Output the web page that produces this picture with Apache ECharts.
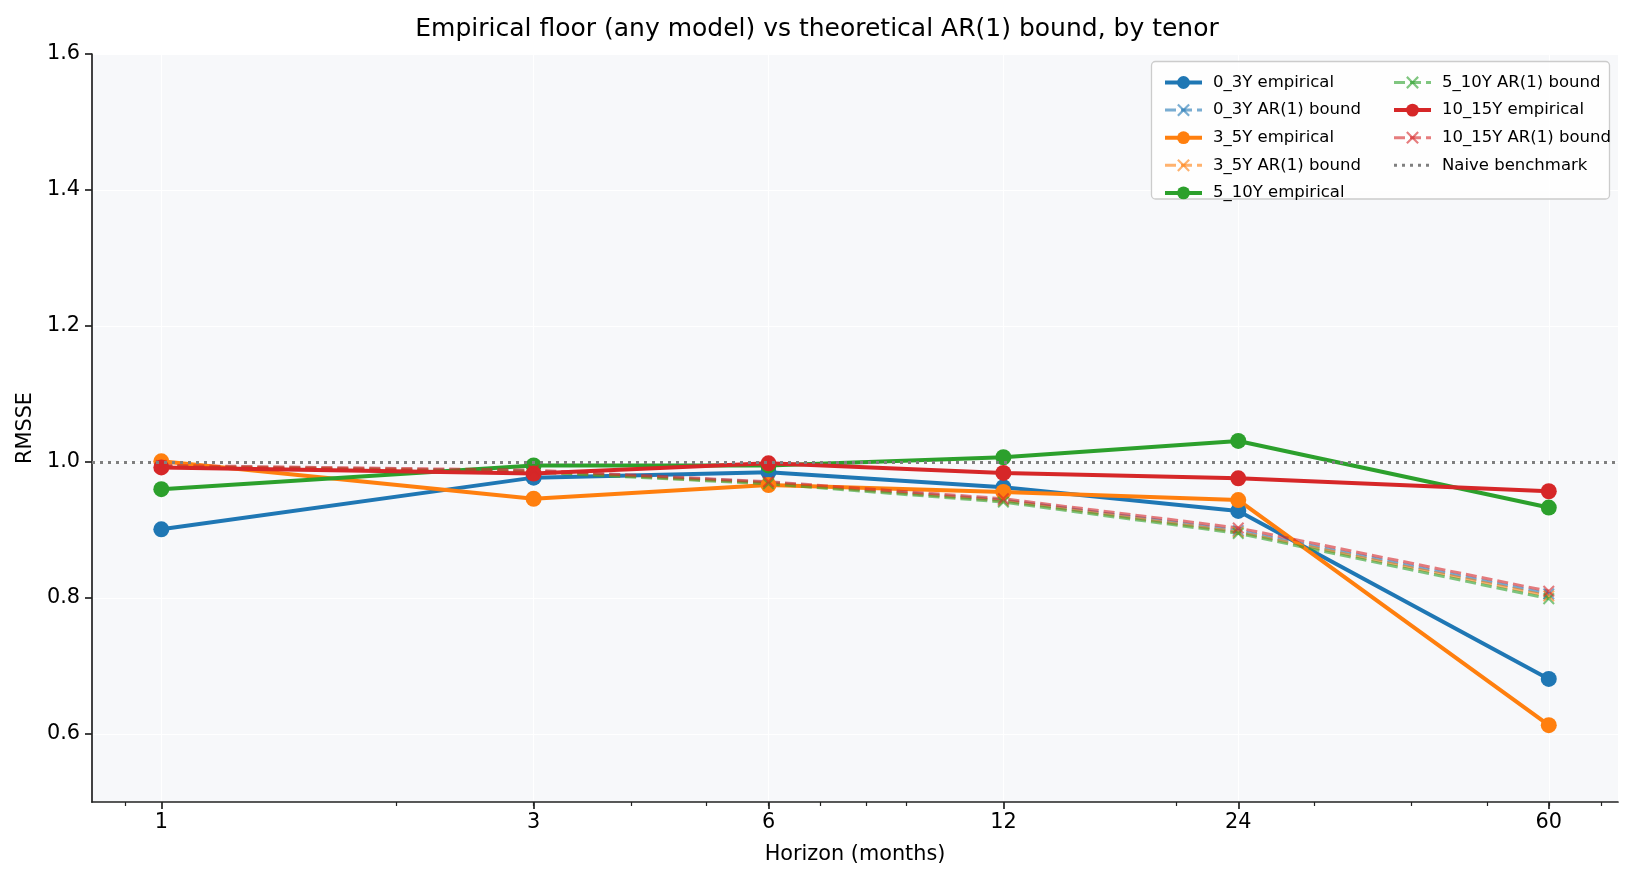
<!DOCTYPE html>
<html>
<head>
<meta charset="utf-8">
<title>Empirical floor vs theoretical AR(1) bound</title>
<script src="https://cdn.jsdelivr.net/npm/echarts@6.0.0/dist/echarts.min.js"></script>
<style>
    html, body { margin: 0; padding: 0; background: #ffffff; }
    #echartsFloorDiv { width: 1634px; height: 880px; }
</style>
</head>
<body>
<div id="echartsFloorDiv"></div>
<script>
// horizons (months) and tick labels
var horizons = [1, 3, 6, 12, 24, 60];
var xTickValues = [1, 3, 6, 12, 24, 60];
var xMinorTickValues = [0.9, 2, 3, 4, 5, 6, 7, 8, 9, 20, 30, 40, 50, 60, 70];
var yTickValues = [0.6, 0.8, 1.0, 1.2, 1.4, 1.6];

var tenors = ['0_3Y', '3_5Y', '5_10Y', '10_15Y'];
var tenorColors = ['#1f77b4', '#ff7f0e', '#2ca02c', '#d62728'];

// empirical floor (best of any model), RMSSE
var empirical0_3Y = [0.901, 0.977, 0.985, 0.963, 0.928, 0.681];
var empirical3_5Y = [1.001, 0.946, 0.966, 0.956, 0.944, 0.613];
var empirical5_10Y = [0.960, 0.995, 0.995, 1.007, 1.031, 0.933];
var empirical10_15Y = [0.992, 0.983, 0.998, 0.984, 0.976, 0.957];

// theoretical AR(1) bound
var bound0_3Y = [0.994, 0.987, 0.970, 0.944, 0.899, 0.806];
var bound3_5Y = [0.994, 0.986, 0.969, 0.943, 0.897, 0.803];
var bound5_10Y = [0.993, 0.985, 0.968, 0.941, 0.895, 0.799];
var bound10_15Y = [0.995, 0.988, 0.971, 0.946, 0.903, 0.810];

var naiveLevel = 1.0;

var empiricalData = [empirical0_3Y, empirical3_5Y, empirical5_10Y, empirical10_15Y];
var boundData = [bound0_3Y, bound3_5Y, bound5_10Y, bound10_15Y];

var fontName = 'DejaVu Sans';
var crossSymbol = 'path://M0,1.2 L1.2,0 L5,3.8 L8.8,0 L10,1.2 L6.2,5 L10,8.8 L8.8,10 L5,6.2 L1.2,10 L0,8.8 L3.8,5 Z';

function toPoints(values) {
    var pts = [];
    for (var i = 0; i < horizons.length; i++) {
        pts.push([horizons[i], values[i]]);
    }
    return pts;
}

var echartsFloorDiv = echarts.init(document.getElementById('echartsFloorDiv'));

var series = [];
for (var t = 0; t < tenors.length; t++) {
    series.push({
        type: 'line',
        name: tenors[t] + ' empirical',
        data: toPoints(empiricalData[t]),
        symbol: 'circle',
        symbolSize: 16,
        color: tenorColors[t],
        lineStyle: { width: 4, color: tenorColors[t] },
        itemStyle: { color: tenorColors[t] },
        emphasis: { disabled: true }
    });
    series.push({
        type: 'line',
        name: tenors[t] + ' AR(1) bound',
        data: toPoints(boundData[t]),
        symbol: crossSymbol,
        symbolSize: 12,
        color: tenorColors[t],
        lineStyle: { width: 3, color: tenorColors[t], type: [11, 5], opacity: 0.6 },
        itemStyle: { color: tenorColors[t], opacity: 0.6 },
        emphasis: { disabled: true }
    });
}
// naive benchmark: horizontal dotted line at 1.0
series.push({
    type: 'line',
    name: 'Naive benchmark',
    data: [],
    symbol: 'none',
    color: '#7f7f7f',
    lineStyle: { width: 3, color: '#7f7f7f', type: [3, 5] },
    markLine: {
        silent: true,
        symbol: 'none',
        label: { show: false },
        lineStyle: { width: 3, color: '#7f7f7f', type: [3, 5] },
        data: [{ yAxis: naiveLevel }]
    }
});

var legendText = { fontFamily: fontName, fontSize: 16.5, color: '#000', lineHeight: 16, padding: [0, 0, 0, 6] };
var legendLine = { width: 'inherit', type: 'inherit', opacity: 'inherit' };

var option = {
    animation: false,
    backgroundColor: '#ffffff',
    title: {
        text: 'Empirical floor (any model) vs theoretical AR(1) bound, by tenor',
        left: 'center',
        top: 12,
        textStyle: { fontFamily: fontName, fontSize: 25, fontWeight: 'normal', color: '#000' }
    },
    grid: {
        left: 92,
        right: 16,
        top: 54,
        bottom: 78,
        show: true,
        backgroundColor: '#f7f8fa',
        borderWidth: 0
    },
    graphic: [{
        type: 'rect',
        z: 3,
        shape: { x: 1151.5, y: 61.5, width: 458, height: 137.5, r: 4 },
        style: { fill: 'rgba(255,255,255,0.8)', stroke: '#cccccc', lineWidth: 1.3 }
    }],
    legend: [{
        orient: 'vertical',
        left: 1158,
        top: 69,
        itemWidth: 37,
        itemHeight: 16,
        itemGap: 10.6,
        selectedMode: false,
        textStyle: legendText,
        lineStyle: legendLine,
        data: ['0_3Y empirical', '0_3Y AR(1) bound', '3_5Y empirical', '3_5Y AR(1) bound', '5_10Y empirical']
    }, {
        orient: 'vertical',
        left: 1387,
        top: 69,
        itemWidth: 37,
        itemHeight: 16,
        itemGap: 10.6,
        selectedMode: false,
        textStyle: legendText,
        lineStyle: legendLine,
        data: ['5_10Y AR(1) bound', '10_15Y empirical', '10_15Y AR(1) bound',
            { name: 'Naive benchmark', itemStyle: { color: 'rgba(0,0,0,0)', borderWidth: 0, opacity: 0 } }]
    }],
    xAxis: [{
        type: 'log',
        logBase: 10,
        min: 0.815,
        max: 73.6,
        name: 'Horizon (months)',
        nameLocation: 'middle',
        nameGap: 42,
        nameTextStyle: { fontFamily: fontName, fontSize: 20.8, color: '#000' },
        axisLine: { show: true, lineStyle: { color: '#222', width: 1.7 } },
        axisTick: { show: true, customValues: xTickValues, length: 7, lineStyle: { color: '#222', width: 1.7 } },
        axisLabel: {
            customValues: xTickValues,
            margin: 10,
            fontFamily: fontName,
            fontSize: 20.8,
            color: '#000'
        },
        splitLine: { show: true, lineStyle: { color: '#ffffff', width: 1.2 } },
        minorTick: { show: false }
    }, {
        type: 'log',
        logBase: 10,
        min: 0.815,
        max: 73.6,
        position: 'bottom',
        axisLine: { show: false },
        axisTick: { show: true, customValues: xMinorTickValues, length: 4, lineStyle: { color: '#222', width: 1.2 } },
        axisLabel: { show: false },
        splitLine: { show: false }
    }],
    yAxis: {
        type: 'value',
        min: 0.5,
        max: 1.6,
        name: 'RMSSE',
        nameLocation: 'middle',
        nameGap: 54,
        nameTextStyle: { fontFamily: fontName, fontSize: 20.8, color: '#000' },
        axisLine: { show: true, lineStyle: { color: '#222', width: 1.7 } },
        axisTick: { show: true, customValues: yTickValues, length: 7, lineStyle: { color: '#222', width: 1.7 } },
        axisLabel: {
            customValues: yTickValues,
            margin: 12,
            fontFamily: fontName,
            fontSize: 20.8,
            color: '#000',
            formatter: function (v) { return Number(v).toFixed(1); }
        },
        splitLine: { show: true, lineStyle: { color: '#ffffff', width: 1.2 } }
    },
    series: series
};

echartsFloorDiv.setOption(option);
</script>
</body>
</html>
